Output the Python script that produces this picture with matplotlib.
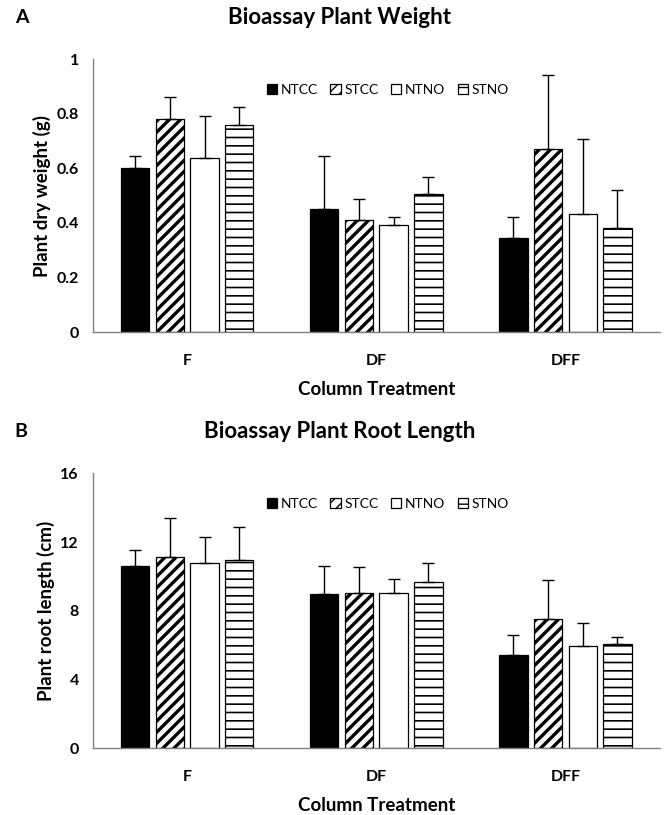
import matplotlib
matplotlib.use("Agg")
import matplotlib.pyplot as plt
import numpy as np

plt.rcParams['font.family'] = ['Lato', 'DejaVu Sans']

# data
categories = ['F', 'DF', 'DFF']
series = ['NTCC', 'STCC', 'NTNO', 'STNO']

weight_mean = {
    'NTCC': [0.600, 0.449, 0.343],
    'STCC': [0.782, 0.411, 0.672],
    'NTNO': [0.638, 0.393, 0.431],
    'STNO': [0.760, 0.504, 0.380],
}
weight_err = {
    'NTCC': [0.045, 0.196, 0.079],
    'STCC': [0.080, 0.075, 0.268],
    'NTNO': [0.154, 0.029, 0.276],
    'STNO': [0.066, 0.064, 0.140],
}

root_mean = {
    'NTCC': [10.6, 9.0, 5.4],
    'STCC': [11.1, 9.05, 7.5],
    'NTNO': [10.8, 9.05, 5.95],
    'STNO': [10.95, 9.65, 6.05],
}
root_err = {
    'NTCC': [0.95, 1.6, 1.2],
    'STCC': [2.3, 1.5, 2.3],
    'NTNO': [1.5, 0.8, 1.35],
    'STNO': [1.9, 1.15, 0.4],
}

styles = {
    'NTCC': dict(color='black', hatch=None, hlw=1.0),
    'STCC': dict(color='white', hatch='///', hlw=2.4),
    'NTNO': dict(color='white', hatch=None, hlw=1.0),
    'STNO': dict(color='white', hatch='--', hlw=1.2),
}

fig = plt.figure(figsize=(6.72, 8.15), dpi=100)
ax1 = fig.add_axes([0.138, 0.5926, 0.844, 0.335])
ax2 = fig.add_axes([0.138, 0.0822, 0.844, 0.337])

x = np.arange(len(categories))
width = 0.15
step = 0.1835


def draw_panel(ax, means, errs, ymax, yticks, ylabel, title, letter, title_y, letter_y):
    for i, s in enumerate(series):
        st = styles[s]
        pos = x + (i - 1.5) * step
        lower = np.zeros(len(categories))
        bars = ax.bar(pos, means[s], width, color=st['color'], edgecolor='black',
                      linewidth=0.9, hatch=st['hatch'], label=s, zorder=2,
                      yerr=[lower, errs[s]],
                      error_kw=dict(ecolor='black', elinewidth=1.0, capsize=4, capthick=1.0))
        for b in bars:
            if hasattr(b, 'set_hatch_linewidth'):
                b.set_hatch_linewidth(st['hlw'])
    ax.set_xlim(-0.5, 2.5)
    ax.set_ylim(0, ymax)
    ax.set_yticks(yticks)
    ax.set_yticklabels([('%g' % t) for t in yticks], fontsize=11.5, fontweight='bold')
    ax.set_xticks(x)
    ax.set_xticklabels(categories, fontsize=11.5, fontweight='bold')
    ax.tick_params(axis='y', length=0, pad=10)
    ax.tick_params(axis='x', length=0, pad=16)
    for sp in ['top', 'right']:
        ax.spines[sp].set_visible(False)
    for sp in ['left', 'bottom']:
        ax.spines[sp].set_color('#808080')
        ax.spines[sp].set_linewidth(1.0)
    ax.set_ylabel(ylabel, fontsize=13.5, fontweight='bold', labelpad=4)
    ax.set_xlabel('Column Treatment', fontsize=13.5, fontweight='bold', labelpad=9)
    fig.text(0.505, title_y, title, fontsize=16, fontweight='bold', ha='center', va='center')
    fig.text(0.022, letter_y, letter, fontsize=14, fontweight='bold', ha='left', va='center')
    ax.legend(loc='upper center', bbox_to_anchor=(0.52, 0.93), ncol=4, frameon=False,
              fontsize=10, handlelength=0.75, handleheight=0.75, handletextpad=0.25,
              columnspacing=0.9, borderaxespad=0)


draw_panel(ax1, weight_mean, weight_err, 1.0, [0, 0.2, 0.4, 0.6, 0.8, 1.0],
           'Plant dry weight (g)', 'Bioassay Plant Weight', 'A', 0.978, 0.978)
draw_panel(ax2, root_mean, root_err, 16, [0, 4, 8, 12, 16],
           'Plant root length (cm)', 'Bioassay Plant Root Length', 'B', 0.47, 0.47)

fig.savefig('out.png', dpi=100)
